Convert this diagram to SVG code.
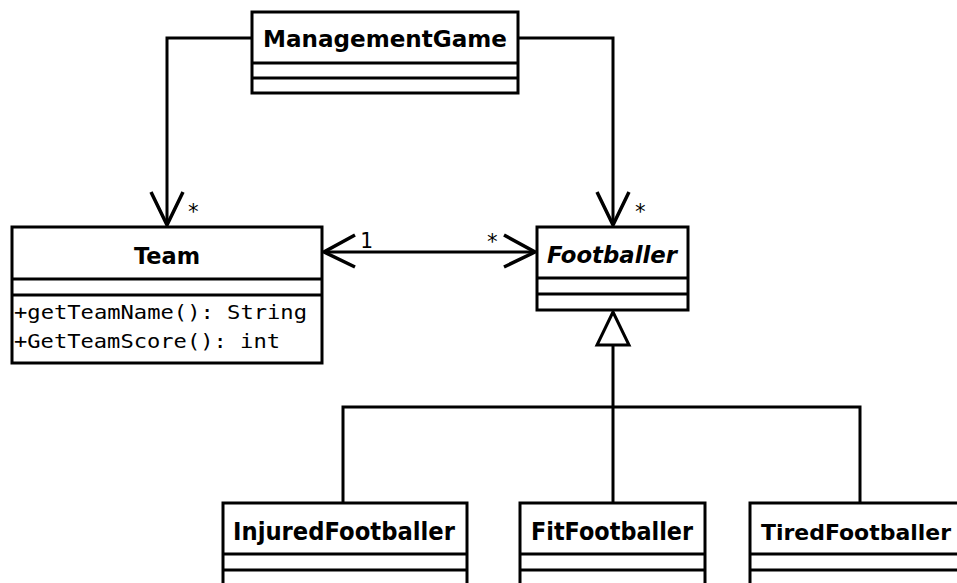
<svg xmlns="http://www.w3.org/2000/svg" width="957" height="583" viewBox="0 0 957 583">
<style>
.box{fill:#fff;stroke:#000;stroke-width:3}
.ln{fill:none;stroke:#000;stroke-width:3}
.arr{fill:none;stroke:#000;stroke-width:3.5}
.name{font-family:"DejaVu Sans","Liberation Sans",sans-serif;font-weight:bold;font-size:23px;text-anchor:middle}
.sub{font-size:24.5px}
.mono{font-family:"DejaVu Sans Mono","Liberation Mono",monospace;font-size:20px}
.mult{font-family:"DejaVu Sans Mono","Liberation Mono",monospace;font-size:21px}
</style>
<rect width="957" height="583" fill="#fff"/>
<g id="connectors">
  <path class="ln" d="M252,38 H167 V225"/>
  <polyline class="arr" points="151,192 167,225 183,192"/>
  <path class="ln" d="M518,38 H613 V225"/>
  <polyline class="arr" points="597,192 613,225 629,192"/>
  <path class="ln" d="M324,252 H535"/>
  <polyline class="arr" points="355,235 324,252 355,267"/>
  <polyline class="arr" points="504,235 535,252 504,267"/>
  <path class="ln" d="M343,503 V407 H860 V503"/>
  <path class="ln" d="M613,345 V503"/>
  <polygon class="box" points="613,312 597,345 629,345"/>
  <text class="mult" x="187" y="219">*</text>
  <text class="mult" x="634" y="219">*</text>
  <text class="mult" x="360" y="248">1</text>
  <text class="mult" x="486" y="249">*</text>
</g>
<g id="ManagementGame">
  <rect class="box" x="252" y="12" width="266" height="81"/>
  <path class="ln" d="M252,63 H518 M252,78 H518"/>
  <text class="name" x="385" y="47" textLength="244" lengthAdjust="spacingAndGlyphs">ManagementGame</text>
</g>
<g id="Team">
  <rect class="box" x="12" y="227" width="310" height="136"/>
  <path class="ln" d="M12,279 H322 M12,295 H322"/>
  <text class="name" x="167" y="264" textLength="66" lengthAdjust="spacingAndGlyphs">Team</text>
  <text class="mono" x="14" y="319" textLength="293" lengthAdjust="spacingAndGlyphs">+getTeamName(): String</text>
  <text class="mono" x="14" y="348" textLength="266" lengthAdjust="spacingAndGlyphs">+GetTeamScore(): int</text>
</g>
<g id="Footballer">
  <rect class="box" x="537" y="227" width="151" height="83"/>
  <path class="ln" d="M537,278 H688 M537,294 H688"/>
  <text class="name" x="612" y="263" font-style="italic" textLength="130" lengthAdjust="spacingAndGlyphs">Footballer</text>
</g>
<g id="InjuredFootballer">
  <rect class="box" x="223" y="503" width="244" height="100"/>
  <path class="ln" d="M223,554 H467 M223,570 H467"/>
  <text class="name sub" x="344" y="540" textLength="222" lengthAdjust="spacingAndGlyphs">InjuredFootballer</text>
</g>
<g id="FitFootballer">
  <rect class="box" x="520" y="503" width="185" height="100"/>
  <path class="ln" d="M520,554 H705 M520,570 H705"/>
  <text class="name sub" x="612" y="540" textLength="162" lengthAdjust="spacingAndGlyphs">FitFootballer</text>
</g>
<g id="TiredFootballer">
  <rect class="box" x="750" y="503" width="240" height="100"/>
  <path class="ln" d="M750,554 H990 M750,570 H990"/>
  <text class="name" x="761" y="540" style="text-anchor:start;font-size:22px" textLength="190" lengthAdjust="spacingAndGlyphs">TiredFootballer</text>
</g>
</svg>
